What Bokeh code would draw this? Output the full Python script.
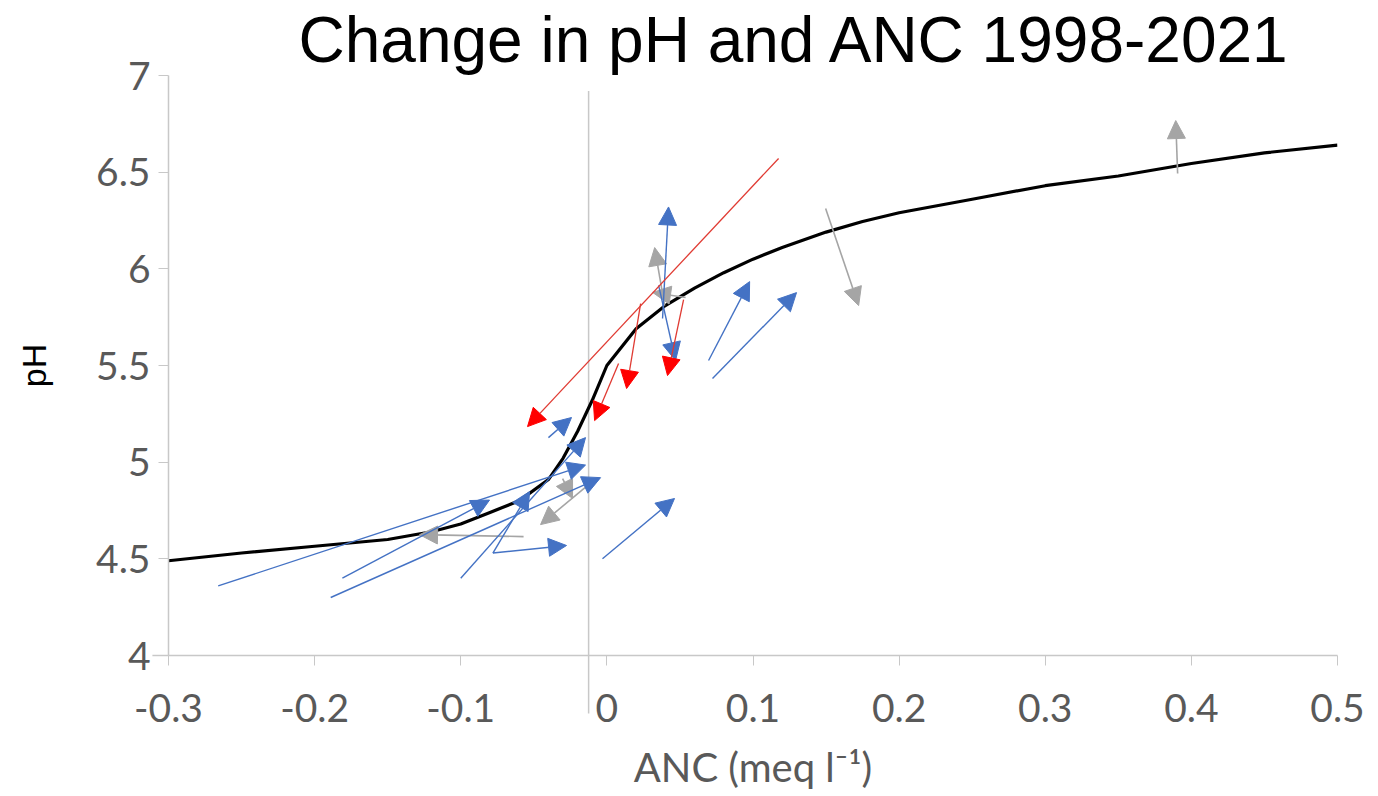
from bokeh.plotting import figure
from bokeh.models import (ColumnDataSource, Arrow, NormalHead, Range1d, FixedTicker,
                          Title, CustomJSTickFormatter)
from bokeh.embed import file_html
from bokeh.resources import INLINE

# ---- data ----
title_text = "Change in pH and ANC 1998-2021"
x_label = "ANC (meq l\u207b\u00b9)"
y_label = "pH"
x_ticks = [-0.3, -0.2, -0.1, 0.0, 0.1, 0.2, 0.3, 0.4, 0.5]
y_ticks = [4.0, 4.5, 5.0, 5.5, 6.0, 6.5, 7.0]

# titration curve
curve_anc = [-0.30, -0.25, -0.20, -0.15, -0.12, -0.10, -0.08, -0.06, -0.04, -0.03, -0.02,
             -0.01, 0.00, 0.02, 0.04, 0.06, 0.08, 0.10, 0.12, 0.15, 0.175, 0.20, 0.25,
             0.30, 0.35, 0.40, 0.45, 0.50]
curve_ph = [4.49, 4.53, 4.565, 4.60, 4.64, 4.68, 4.74, 4.80, 4.91, 5.02, 5.16,
            5.32, 5.50, 5.69, 5.81, 5.90, 5.98, 6.05, 6.11, 6.19, 6.245, 6.29, 6.36,
            6.43, 6.48, 6.545, 6.60, 6.64]

# reference vertical line (ANC)
ref_anc = -0.0125
ref_ph_top = 6.92
ref_ph_bottom = 3.70

# blue arrows (start -> end)
blue_anc0 = [-0.266, -0.181, -0.189, -0.100, -0.078, -0.078, -0.040, -0.003, 0.0381, 0.0354, 0.0696, 0.0723]
blue_ph0 = [4.36, 4.40, 4.30, 4.40, 4.53, 4.53, 5.127, 4.50, 5.743, 5.914, 5.526, 5.433]
blue_anc1 = [-0.0146, -0.0803, -0.0043, -0.0146, -0.0529, -0.0276, -0.0242, 0.0463, 0.0422, 0.0470, 0.0977, 0.1298]
blue_ph1 = [4.985, 4.804, 4.920, 5.127, 4.848, 4.569, 5.231, 4.812, 6.320, 5.526, 5.934, 5.877]

# grey arrows
grey_anc0 = [-0.057, -0.0125, -0.0303, 0.0539, 0.0395, 0.1497, 0.3906]
grey_ph0 = [4.615, 4.884, 4.915, 5.852, 5.810, 6.312, 6.493]
grey_anc1 = [-0.1282, -0.0454, -0.0235, 0.0313, 0.0327, 0.1723, 0.3893]
grey_ph1 = [4.625, 4.677, 4.812, 5.878, 6.110, 5.810, 6.767]

# red arrows
red_anc0 = [0.1175, 0.0231, 0.0525, 0.0080]
red_ph0 = [6.571, 5.820, 5.841, 5.510]
red_anc1 = [-0.0543, 0.0135, 0.0415, -0.0084]
red_ph1 = [5.184, 5.381, 5.448, 5.215]

# ---- styling ----
BLUE = "#4472C4"
GREY = "#A5A5A5"
RED_LINE = "#E03A32"
RED_HEAD = "#FF0000"
AXIS_C = "#C8C8C8"
TICK_TXT = "#595959"
TICK_FONT = "Lato"

p = figure(width=1378, height=796,
           x_range=Range1d(x_ticks[0], x_ticks[-1]),
           y_range=Range1d(y_ticks[0], y_ticks[-1]),
           output_backend="svg", toolbar_location=None,
           min_border_left=168, min_border_right=41,
           min_border_top=75, min_border_bottom=141)
p.outline_line_color = None
p.xgrid.visible = False
p.ygrid.visible = False
p.background_fill_color = "white"
p.border_fill_color = "white"

t = Title(text=title_text, text_font="Liberation Sans", text_font_size="64px",
          text_font_style="normal", text_color="black", align="left",
          offset=130, standoff=0)
p.add_layout(t, "above")

fmt = CustomJSTickFormatter(code="return String(Number(tick.toFixed(3)));")

xa = p.xaxis[0]
xa.ticker = FixedTicker(ticks=x_ticks)
xa.formatter = fmt
xa.minor_tick_line_color = None
xa.major_tick_in = 0
xa.major_tick_out = 10
xa.major_tick_line_color = AXIS_C
xa.axis_line_color = AXIS_C
xa.axis_line_width = 1.5
xa.major_label_text_font = TICK_FONT
xa.major_label_text_font_size = "39px"
xa.major_label_text_color = TICK_TXT
xa.major_label_standoff = 28
xa.axis_label = x_label
xa.axis_label_text_font = TICK_FONT
xa.axis_label_text_font_size = "40px"
xa.axis_label_text_font_style = "normal"
xa.axis_label_text_color = TICK_TXT
xa.axis_label_standoff = 18

ya = p.yaxis[0]
ya.ticker = FixedTicker(ticks=y_ticks)
ya.formatter = fmt
ya.minor_tick_line_color = None
ya.major_tick_in = 0
ya.major_tick_out = 10
ya.major_tick_line_color = AXIS_C
ya.axis_line_color = AXIS_C
ya.axis_line_width = 1.5
ya.major_label_text_font = TICK_FONT
ya.major_label_text_font_size = "39px"
ya.major_label_text_color = TICK_TXT
ya.major_label_standoff = 8
ya.axis_label = y_label
ya.axis_label_text_font = "Liberation Sans"
ya.axis_label_text_font_size = "34px"
ya.axis_label_text_font_style = "normal"
ya.axis_label_text_color = "black"
ya.axis_label_standoff = 40

# reference vertical line: inside frame, then the short part below the axis
p.line([ref_anc, ref_anc], [y_ticks[0], ref_ph_top], line_color=AXIS_C, line_width=1.5)
p.line([ref_anc, ref_anc], [ref_ph_bottom, y_ticks[0]], line_color=AXIS_C, line_width=1.5,
       level="annotation")
# x axis line slightly extended to the left
p.line([x_ticks[0] - 0.011, x_ticks[0]], [y_ticks[0], y_ticks[0]], line_color=AXIS_C,
       line_width=1.5, level="annotation")

# titration curve
p.line(curve_anc, curve_ph, line_color="black", line_width=3.2, line_join="round")


def add_arrows(a0, p0, a1, p1, line_c, head_c, lw):
    src = ColumnDataSource(dict(x0=a0, y0=p0, x1=a1, y1=p1))
    arr = Arrow(end=NormalHead(size=18, fill_color=head_c, line_color=head_c, line_width=1),
                x_start="x0", y_start="y0", x_end="x1", y_end="y1",
                source=src, line_color=line_c, line_width=lw)
    p.add_layout(arr)


add_arrows(grey_anc0, grey_ph0, grey_anc1, grey_ph1, GREY, GREY, 1.6)
add_arrows(blue_anc0, blue_ph0, blue_anc1, blue_ph1, BLUE, BLUE, 1.4)
add_arrows(red_anc0, red_ph0, red_anc1, red_ph1, RED_LINE, RED_HEAD, 1.3)

open("out.html", "w").write(file_html(p, INLINE))
